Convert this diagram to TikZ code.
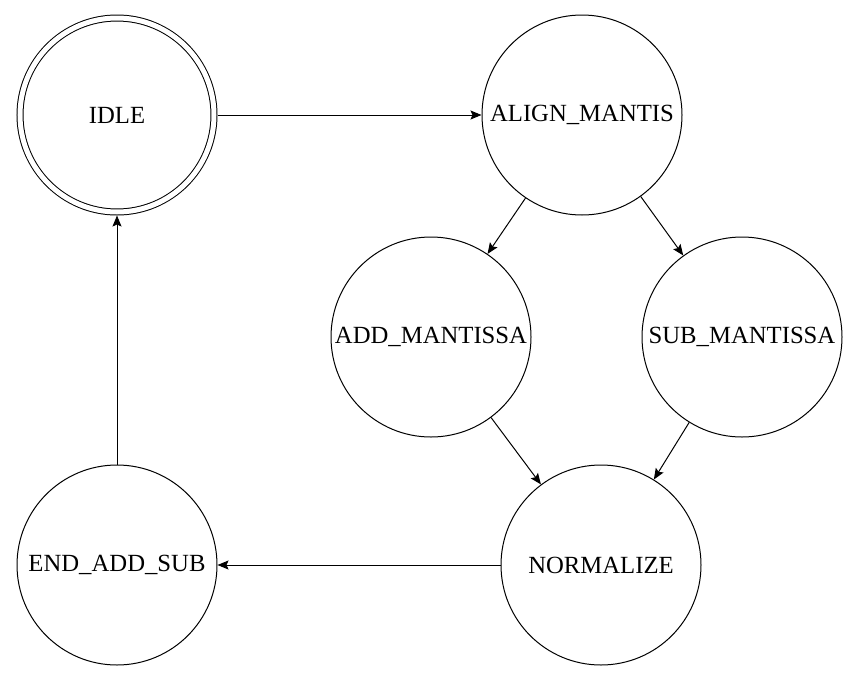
\documentclass[tikz,border=0pt]{standalone}
\usepackage{fontspec}
\setmainfont{Liberation Serif}
\usepackage{tikz}
\usetikzlibrary{arrows.meta}

\begin{document}
\begin{tikzpicture}[x=1pt,y=-1pt,line width=1pt,
    state/.style={draw, circle, minimum size=200pt, inner sep=0pt, font=\fontsize{24.7}{30}\selectfont},
    initstate/.style={state, minimum size=194pt, double, double distance=5pt, outer sep=3.5pt},
    trans/.style={-{Stealth[length=11pt,width=9pt,inset=2pt]}}]
     \useasboundingbox (0,0) rectangle (851,672);
     % states
     \node[initstate] (idle) at (117,115) {IDLE};
     \node[state] (align) at (582,115) {ALIGN\_MANTIS};
     \node[state] (addm) at (431,337) {ADD\_MANTISSA};
     \node[state] (subm) at (742,337) {SUB\_MANTISSA};
     \node[state] (norm) at (601,565) {NORMALIZE};
     \node[state] (endas) at (117,565) {END\_ADD\_SUB};
     % transitions
     \draw[trans] (idle) -- (align);
     \draw[trans] (align) -- (addm);
     \draw[trans] (align) -- (subm);
     \draw[trans] (addm) -- (norm);
     \draw[trans] (subm) -- (norm);
     \draw[trans] (norm) -- (endas);
     \draw[trans] (endas) -- (idle);
\end{tikzpicture}
\end{document}
